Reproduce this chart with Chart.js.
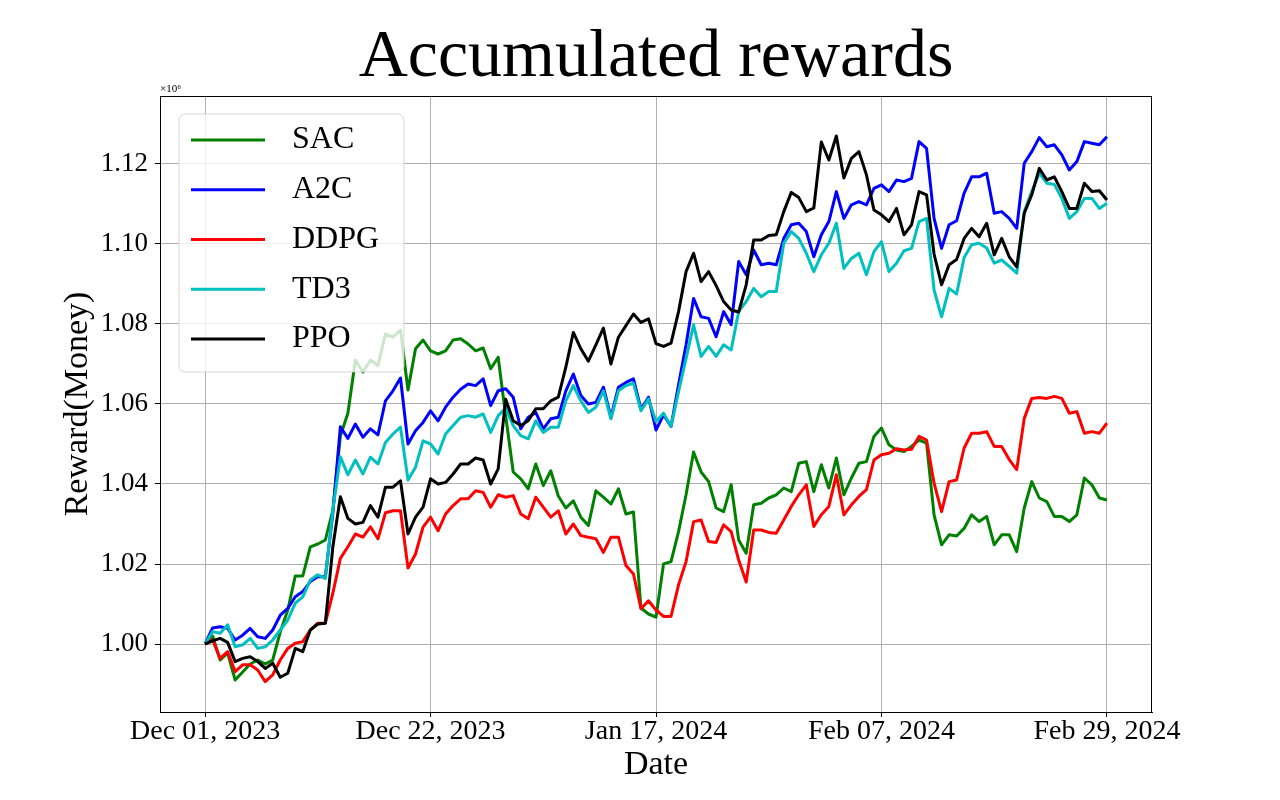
<!DOCTYPE html>
<html>
<head>
<meta charset="utf-8">
<title>Accumulated rewards</title>
<script src="https://cdn.jsdelivr.net/npm/chart.js@4.4.1/dist/chart.umd.min.js"></script>
<style>
  html, body { margin: 0; padding: 0; background: #ffffff; }
  #wrap { width: 1280px; height: 800px; }
</style>
</head>
<body>
<div id="wrap"><canvas id="chart-rewards" width="1280" height="800"></canvas></div>
<script>
// two samples per trading day
var tickIndex = [0, 30, 60, 90, 120]
var tickLabels = ["Dec 01, 2023", "Dec 22, 2023", "Jan 17, 2024", "Feb 07, 2024", "Feb 29, 2024"]
var yTicks = [1.00, 1.02, 1.04, 1.06, 1.08, 1.10, 1.12]

var sac = [1.000, 1.002, 0.996, 0.9977, 0.991, 0.993, 0.995, 0.996, 0.995, 0.996,
  1.003, 1.0085, 1.017, 1.017, 1.0243, 1.025, 1.026, 1.0335, 1.052, 1.0577,
  1.071, 1.068, 1.071, 1.0696, 1.0775, 1.0767, 1.0785, 1.0635, 1.0738, 1.076,
  1.0733, 1.0725, 1.0733, 1.076, 1.0763, 1.075, 1.0733, 1.074, 1.0688, 1.0717,
  1.057, 1.043, 1.0413, 1.0388, 1.045, 1.0396, 1.0433, 1.037, 1.034, 1.0358,
  1.0317, 1.0296, 1.0383, 1.0367, 1.035, 1.0388, 1.0325, 1.033, 1.009, 1.0075,
  1.0067, 1.020, 1.0206, 1.0281, 1.0373, 1.048, 1.043, 1.0406, 1.034, 1.0331,
  1.0398, 1.026, 1.0227, 1.0348, 1.0352, 1.0365, 1.0373, 1.039, 1.0381, 1.0452,
  1.0456, 1.0381, 1.0448, 1.039, 1.0465, 1.0373, 1.0415, 1.0452, 1.0456, 1.0519,
  1.054, 1.0498, 1.0485, 1.0481, 1.0494, 1.051, 1.0502, 1.0323, 1.0248, 1.0273,
  1.027, 1.0289, 1.0323, 1.0306, 1.0319, 1.0248, 1.0273, 1.0273, 1.0231, 1.034,
  1.0406, 1.0365, 1.0356, 1.0319, 1.0319, 1.0306, 1.0323, 1.0415, 1.0398, 1.0365,
  1.036]

var a2c = [1.000, 1.004, 1.0043, 1.0039, 1.001, 1.0022, 1.0039, 1.0018, 1.0014, 1.0035,
  1.0072, 1.0089, 1.0118, 1.0131, 1.0156, 1.0168, 1.0168, 1.0327, 1.0543, 1.0514,
  1.055, 1.0517, 1.0538, 1.0523, 1.0608, 1.0633, 1.0665, 1.050, 1.0533, 1.0554,
  1.0583, 1.0558, 1.0592, 1.0617, 1.0637, 1.065, 1.0646, 1.0663, 1.0596, 1.0633,
  1.0638, 1.0617, 1.0538, 1.0567, 1.0579, 1.0538, 1.0563, 1.0567, 1.0633, 1.0675,
  1.0621, 1.060, 1.0604, 1.0642, 1.0567, 1.0642, 1.0654, 1.0663, 1.0587, 1.0617,
  1.0535, 1.0573, 1.0544, 1.0648, 1.0748, 1.0864, 1.0818, 1.0814, 1.0768, 1.0831,
  1.0798, 1.0956, 1.0923, 1.0985, 1.0948, 1.0952, 1.0948, 1.1014, 1.1048, 1.1052,
  1.1031, 1.0968, 1.1023, 1.1056, 1.1131, 1.1064, 1.1098, 1.1106, 1.1098, 1.1139,
  1.1148, 1.1131, 1.116, 1.1156, 1.1164, 1.1256, 1.1239, 1.1064, 1.0989, 1.1048,
  1.1058, 1.1127, 1.1168, 1.1168, 1.1177, 1.1077, 1.1081, 1.1064, 1.1039, 1.1202,
  1.1231, 1.1266, 1.1243, 1.1248, 1.1223, 1.1185, 1.1206, 1.1256, 1.1252, 1.1248,
  1.1268]

var ddpg = [1.0002, 1.001, 0.9964, 0.9981, 0.9931, 0.9948, 0.9948, 0.9935, 0.9906, 0.9923,
  0.996, 0.9989, 1.0002, 1.0006, 1.0035, 1.0052, 1.0052, 1.0127, 1.0214, 1.0243,
  1.0275, 1.0267, 1.0293, 1.0263, 1.0328, 1.0333, 1.0333, 1.019, 1.0225, 1.0292,
  1.0317, 1.0283, 1.0325, 1.0346, 1.0363, 1.0363, 1.0383, 1.0379, 1.0342, 1.0373,
  1.0367, 1.0371, 1.0325, 1.0313, 1.0367, 1.0342, 1.0317, 1.0333, 1.0275, 1.030,
  1.0271, 1.0267, 1.0263, 1.0229, 1.0267, 1.0267, 1.0196, 1.0175, 1.0088, 1.0108,
  1.0085, 1.0069, 1.0069, 1.0148, 1.0206, 1.0306, 1.031, 1.0256, 1.0254, 1.0298,
  1.0281, 1.021, 1.0155, 1.0285, 1.0285, 1.0279, 1.0277, 1.031, 1.0344, 1.0373,
  1.0398, 1.0294, 1.0323, 1.0344, 1.0423, 1.0323, 1.0348, 1.0369, 1.0386, 1.046,
  1.0473, 1.0477, 1.0488, 1.0485, 1.0487, 1.0519, 1.051, 1.0402, 1.0331, 1.0406,
  1.041, 1.049, 1.0527, 1.0527, 1.0531, 1.0494, 1.0494, 1.0461, 1.0436, 1.0564,
  1.0614, 1.0616, 1.0614, 1.0619, 1.0614, 1.0577, 1.0581, 1.0527, 1.0531, 1.0527,
  1.0552]

var td3 = [1.000, 1.0031, 1.0027, 1.0048, 0.9993, 0.9998, 1.0014, 0.9989, 0.9993, 1.001,
  1.0035, 1.006, 1.0102, 1.0118, 1.016, 1.0173, 1.0164, 1.0335, 1.0468, 1.0423,
  1.046, 1.0425, 1.0467, 1.045, 1.0504, 1.0525, 1.0542, 1.041, 1.0442, 1.0508,
  1.050, 1.0475, 1.0525, 1.0546, 1.0567, 1.0571, 1.0567, 1.0575, 1.0529, 1.0571,
  1.059, 1.0546, 1.0521, 1.0513, 1.0558, 1.0529, 1.0542, 1.0542, 1.0608, 1.0646,
  1.0608, 1.0579, 1.0592, 1.0633, 1.0563, 1.0633, 1.0646, 1.0652, 1.0583, 1.0613,
  1.0556, 1.0577, 1.0544, 1.0631, 1.0714, 1.0798, 1.0719, 1.0744, 1.0719, 1.0748,
  1.0735, 1.0831, 1.0856, 1.0889, 1.0868, 1.0881, 1.0881, 1.1002, 1.1031, 1.1014,
  1.0977, 1.0931, 1.0973, 1.1002, 1.1052, 1.0939, 1.0964, 1.0977, 1.0923, 1.0981,
  1.1006, 1.0931, 1.0952, 1.0983, 1.0989, 1.1056, 1.1064, 1.0885, 1.0818, 1.0889,
  1.0875, 1.0966, 1.0998, 1.1002, 1.099, 1.0952, 1.096, 1.0944, 1.0927, 1.1081,
  1.1131, 1.1177, 1.1152, 1.1149, 1.1114, 1.1064, 1.1081, 1.1114, 1.1114, 1.1089,
  1.1102]

var ppo = [1.000, 1.0008, 1.0014, 1.0004, 0.9956, 0.9964, 0.9968, 0.9956, 0.9939, 0.9952,
  0.9917, 0.9927, 0.9989, 0.9981, 1.0035, 1.005, 1.0052, 1.0243, 1.0368, 1.0314,
  1.030, 1.0304, 1.0346, 1.0317, 1.0392, 1.0392, 1.0408, 1.0275, 1.0317, 1.0342,
  1.0413, 1.040, 1.0404, 1.0425, 1.045, 1.045, 1.0465, 1.046, 1.040, 1.0438,
  1.0612, 1.0558, 1.0546, 1.0558, 1.0588, 1.0588, 1.0608, 1.0617, 1.0692, 1.0779,
  1.0738, 1.0707, 1.0748, 1.079, 1.070, 1.0767, 1.0796, 1.0825, 1.0804, 1.0813,
  1.0751, 1.0744, 1.0752, 1.0831, 1.0931, 1.0977, 1.0906, 1.0931, 1.0896, 1.0856,
  1.0835, 1.083, 1.0898, 1.101, 1.101, 1.1021, 1.1023, 1.1081, 1.1129, 1.1116,
  1.1081, 1.109, 1.1255, 1.121, 1.127, 1.1165, 1.1214, 1.1231, 1.1173, 1.1085,
  1.1073, 1.1056, 1.1089, 1.1023, 1.1048, 1.1131, 1.1123, 1.0975, 1.0898, 1.0948,
  1.0961, 1.1014, 1.1039, 1.1018, 1.1052, 1.0973, 1.1014, 1.0968, 1.0943, 1.1077,
  1.1123, 1.1189, 1.116, 1.1168, 1.1131, 1.1089, 1.1089, 1.1152, 1.1131, 1.1133,
  1.111]

var sampleIndex = sac.map(function (v, i) { return i })

var serif = "'Liberation Serif', 'DejaVu Serif', serif"
Chart.defaults.font.family = serif
Chart.defaults.color = "#000000"

// title centred on the axes, frame, legend box and the x10^6 offset
var axesExtras = {
  id: "axesExtras",
  afterDatasetsDraw: function (chart) {
    var ctx = chart.ctx
    var a = chart.chartArea
    ctx.save()
    ctx.strokeStyle = "#000000"
    ctx.lineWidth = 1
    ctx.strokeRect(Math.round(a.left) + 0.5, Math.round(a.top) + 0.5,
      Math.round(a.right - a.left) - 1, Math.round(a.bottom - a.top))

    ctx.fillStyle = "#000000"
    ctx.font = "68px " + serif
    ctx.textAlign = "center"
    ctx.textBaseline = "middle"
    ctx.fillText("Accumulated rewards", (a.left + a.right) / 2, a.top - 38)

    ctx.font = "11px " + serif
    ctx.textAlign = "left"
    ctx.textBaseline = "alphabetic"
    ctx.fillText("\u00d710\u2076", a.left, a.top - 4)

    var x = a.left + 19, y = a.top + 18, w = 225, h = 258, r = 6
    ctx.beginPath()
    ctx.moveTo(x + r, y)
    ctx.lineTo(x + w - r, y)
    ctx.arcTo(x + w, y, x + w, y + r, r)
    ctx.lineTo(x + w, y + h - r)
    ctx.arcTo(x + w, y + h, x + w - r, y + h, r)
    ctx.lineTo(x + r, y + h)
    ctx.arcTo(x, y + h, x, y + h - r, r)
    ctx.lineTo(x, y + r)
    ctx.arcTo(x, y, x + r, y, r)
    ctx.closePath()
    ctx.fillStyle = "rgba(255,255,255,0.8)"
    ctx.fill()
    ctx.strokeStyle = "rgba(204,204,204,0.8)"
    ctx.lineWidth = 1
    ctx.stroke()

    ctx.font = "32px " + serif
    ctx.textBaseline = "middle"
    chart.data.datasets.forEach(function (ds, i) {
      var rowY = y + 26 + i * 49.75
      ctx.beginPath()
      ctx.moveTo(x + 12, rowY)
      ctx.lineTo(x + 86, rowY)
      ctx.strokeStyle = ds.borderColor
      ctx.lineWidth = 3
      ctx.stroke()
      ctx.fillStyle = "#000000"
      ctx.fillText(ds.label, x + 113, rowY)
    })
    ctx.restore()
  }
}

function series(label, values, color, order) {
  return {
    label: label,
    data: values,
    borderColor: color,
    backgroundColor: color,
    borderWidth: 3,
    pointRadius: 0,
    tension: 0,
    fill: false,
    borderJoinStyle: "round",
    order: order
  }
}

new Chart(document.getElementById("chart-rewards"), {
  type: "line",
  data: {
    labels: sampleIndex,
    datasets: [
      series("SAC", sac, "#008000", 4),
      series("A2C", a2c, "#0000ff", 3),
      series("DDPG", ddpg, "#ff0000", 2),
      series("TD3", td3, "#00bfbf", 1),
      series("PPO", ppo, "#000000", 0)
    ]
  },
  options: {
    responsive: false,
    devicePixelRatio: 1,
    animation: false,
    layout: { padding: { left: 0, right: 128, top: 96, bottom: 0 } },
    plugins: {
      legend: { display: false },
      tooltip: { enabled: false },
      title: { display: false }
    },
    scales: {
      x: {
        type: "linear",
        min: -6,
        max: 126,
        afterBuildTicks: function (scale) {
          scale.ticks = tickIndex.map(function (v) { return { value: v } })
        },
        afterFit: function (scale) { scale.height = 88 },
        ticks: {
          autoSkip: false,
          maxRotation: 0,
          padding: 1,
          font: { size: 28, lineHeight: 1 },
          color: "#000000",
          callback: function (v) { return tickLabels[tickIndex.indexOf(v)] }
        },
        grid: { color: "#b0b0b0", lineWidth: 1, tickColor: "#000000", tickLength: 5 },
        border: { display: true, color: "#000000", width: 1 },
        title: {
          display: true,
          text: "Date",
          color: "#000000",
          font: { size: 34, lineHeight: 1 },
          padding: { top: 0, bottom: 18 }
        }
      },
      y: {
        min: 0.983,
        max: 1.137,
        afterBuildTicks: function (scale) {
          scale.ticks = yTicks.map(function (v) { return { value: v } })
        },
        afterFit: function (scale) { scale.width = 160 },
        ticks: {
          padding: 7,
          font: { size: 27, lineHeight: 1 },
          color: "#000000",
          callback: function (v) { return v.toFixed(2) }
        },
        grid: { color: "#b0b0b0", lineWidth: 1, tickColor: "#000000", tickLength: 5 },
        border: { display: true, color: "#000000", width: 1 },
        title: {
          display: true,
          text: "Reward(Money)",
          color: "#000000",
          font: { size: 34, lineHeight: 1 },
          padding: { top: 61, bottom: 0 }
        }
      }
    }
  },
  plugins: [axesExtras]
})
</script>
</body>
</html>
